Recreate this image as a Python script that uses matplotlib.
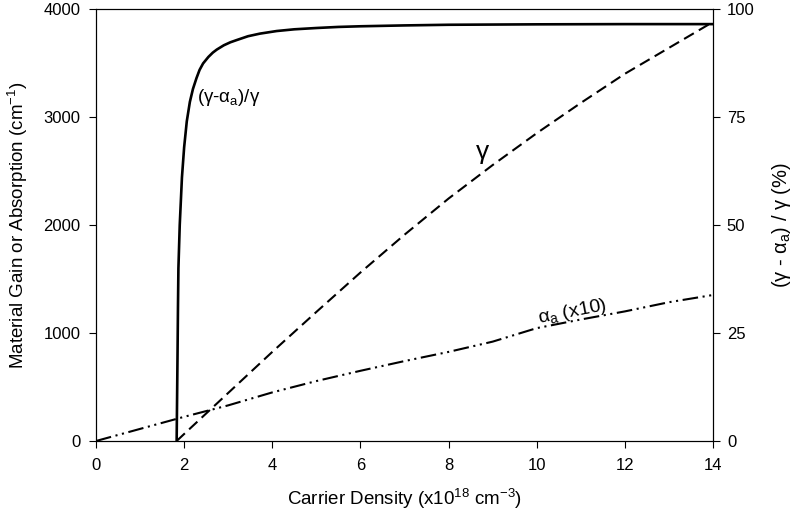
import matplotlib
matplotlib.use("Agg")
import matplotlib.pyplot as plt

plt.rcParams['font.family'] = ['Liberation Sans', 'DejaVu Sans']
plt.rcParams['mathtext.fontset'] = 'custom'
plt.rcParams['mathtext.rm'] = 'Liberation Sans'
plt.rcParams['mathtext.it'] = 'Liberation Sans:italic'
plt.rcParams['mathtext.bf'] = 'Liberation Sans:bold'

# Material gain gamma (cm^-1) vs carrier density (x1e18 cm^-3)
density_gain = [1.83, 2.0, 2.5, 3, 4, 5, 6, 7, 8, 9, 10, 11, 12, 13, 14]
gain = [0, 65, 255, 445, 825, 1195, 1560, 1910, 2245, 2555, 2850, 3130, 3400, 3640, 3880]

# Absorption alpha_a scaled by 10 (cm^-1)
density_abs = [0, 1, 2, 3, 4, 5, 6, 7, 8, 9, 10, 11, 12, 13, 14]
absorption_x10 = [0, 112, 224, 330, 450, 555, 650, 740, 825, 920, 1045, 1125, 1200, 1285, 1352]

# Net fraction (gamma - alpha_a) / gamma in percent
density_ratio = [1.83, 1.84, 1.85, 1.86, 1.87, 1.9, 1.95, 2.0, 2.06, 2.13, 2.2, 2.28,
                 2.35, 2.43, 2.55, 2.65, 2.74, 2.9, 3.05, 3.19, 3.45, 3.72, 4.1, 4.5,
                 5, 5.5, 6, 7, 8, 10, 12, 14]
ratio_pct = [0, 10, 20, 31, 40, 50, 61, 68, 74, 78.5, 81.5, 84,
             85.9, 87.4, 88.9, 89.9, 90.6, 91.6, 92.3, 92.8, 93.7, 94.3, 94.9, 95.3,
             95.6, 95.85, 96.0, 96.2, 96.35, 96.45, 96.5, 96.5]

x_ticks = [0, 2, 4, 6, 8, 10, 12, 14]
left_ticks = [0, 1000, 2000, 3000, 4000]
right_ticks = [0, 25, 50, 75, 100]

fig = plt.figure(figsize=(7.96, 5.16), dpi=100)
ax = fig.add_axes([96 / 796, 1 - 441 / 516, (713 - 96) / 796, (441 - 9) / 516])
ax2 = ax.twinx()

ax.plot(density_gain, gain, color='black', lw=1.5, dashes=(5.4, 2.8))
ax.plot(density_abs, absorption_x10, color='black', lw=1.5,
        dashes=(7.5, 2.2, 1, 2.2, 1, 2.2))
ax2.plot(density_ratio, ratio_pct, color='black', lw=1.9,
         solid_joinstyle='round', solid_capstyle='butt')

ax.set_xlim(0, 14)
ax.set_ylim(0, 4000)
ax2.set_ylim(0, 100)
ax.set_xticks(x_ticks)
ax.set_yticks(left_ticks)
ax2.set_yticks(right_ticks)

for a in (ax, ax2):
    a.tick_params(direction='out', length=5, width=0.8, labelsize=12, pad=6)
    for s in a.spines.values():
        s.set_linewidth(0.8)
ax.tick_params(axis='x', pad=7)
ax2.tick_params(pad=5)

ax.set_xlabel(r'Carrier Density (x10$^{18}$ cm$^{-3}$)', fontsize=13.5, labelpad=10)
ax.set_ylabel(r'Material Gain or Absorption (cm$^{-1}$)', fontsize=13.5, labelpad=10)
ax2.set_ylabel(r'(γ - α$_{\rm a}$) / γ (%)', fontsize=14.5, labelpad=11)

ax.text(2.29, 3185, r'(γ-α$_{\rm a}$)/γ', fontsize=13.5, ha='left', va='center')
ax.text(8.78, 2676, 'γ', fontsize=19, ha='center', va='center')
ax.text(10.8, 1195, r'α$_{\rm a}$ (x10)', fontsize=14, ha='center', va='center',
        rotation=11, rotation_mode='anchor')

fig.savefig('out.png', dpi=100)
